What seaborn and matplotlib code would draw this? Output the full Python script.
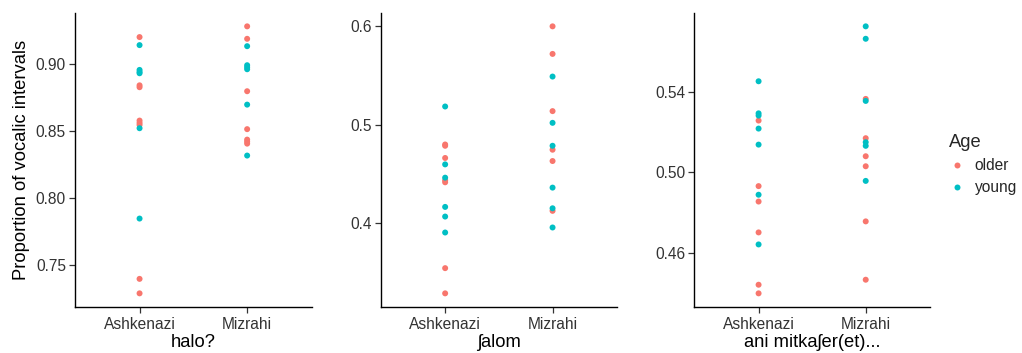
import matplotlib
matplotlib.use("Agg")
import matplotlib.pyplot as plt
import seaborn as sns
import pandas as pd
from matplotlib.ticker import FormatStrFormatter

# ---- data ----
origins = ["Ashkenazi", "Mizrahi"]
ages = ["older", "young"]
phrases = ["halo?", "ʃalom", "ani mitkaʃer(et)..."]

halo_ash_older = [0.920, 0.884, 0.8826, 0.8577, 0.856, 0.8545, 0.7396, 0.7288]
halo_ash_young = [0.914, 0.8955, 0.894, 0.893, 0.852, 0.7846]
halo_miz_older = [0.928, 0.9187, 0.8796, 0.8513, 0.8435, 0.842, 0.8405]
halo_miz_young = [0.9132, 0.899, 0.8975, 0.896, 0.8696, 0.8316]

shalom_ash_older = [0.480, 0.4787, 0.4663, 0.4436, 0.4416, 0.3544, 0.3288]
shalom_ash_young = [0.5186, 0.4598, 0.4463, 0.4166, 0.4068, 0.3906]
shalom_miz_older = [0.600, 0.572, 0.5139, 0.4747, 0.4632, 0.4126]
shalom_miz_young = [0.549, 0.502, 0.4787, 0.4362, 0.4152, 0.3957]

ani_ash_older = [0.5259, 0.4932, 0.4855, 0.4701, 0.4440, 0.4397]
ani_ash_young = [0.5455, 0.5295, 0.5284, 0.5219, 0.5139, 0.4889, 0.4641]
ani_miz_older = [0.5367, 0.5171, 0.5081, 0.5031, 0.4756, 0.4465]
ani_miz_young = [0.5729, 0.5667, 0.5357, 0.5151, 0.5133, 0.4958]

yticks = [[0.75, 0.80, 0.85, 0.90], [0.4, 0.5, 0.6], [0.46, 0.50, 0.54]]
yfmt = ["%.2f", "%.1f", "%.2f"]

groups = {
    "halo?": [halo_ash_older, halo_ash_young, halo_miz_older, halo_miz_young],
    "ʃalom": [shalom_ash_older, shalom_ash_young, shalom_miz_older, shalom_miz_young],
    "ani mitkaʃer(et)...": [ani_ash_older, ani_ash_young, ani_miz_older, ani_miz_young],
}

rows = []
for ph, (ao, ay, mo, my) in groups.items():
    for vals, o, a in [(ao, "Ashkenazi", "older"), (ay, "Ashkenazi", "young"),
                       (mo, "Mizrahi", "older"), (my, "Mizrahi", "young")]:
        for v in vals:
            rows.append({"phrase": ph, "Origin": o, "Age": a, "value": v})
df = pd.DataFrame(rows)

palette = {"older": "#F8766D", "young": "#00BFC4"}

sns.set_style("white")
plt.rcParams["font.family"] = ["Liberation Sans", "DejaVu Sans"]

TICK_FS = 11.2
TITLE_FS = 13.2

fig = plt.figure(figsize=(10.22, 3.53), dpi=100)
W, H = 1022, 353
panels = [(75, 311.7), (380.7, 617), (694.3, 930)]
top, bottom = 13, 306.7

for i, ph in enumerate(phrases):
    l, r = panels[i]
    ax = fig.add_axes([l / W, 1 - bottom / H, (r - l) / W, (bottom - top) / H])
    sub = df[df["phrase"] == ph]
    sns.stripplot(data=sub, x="Origin", y="value", hue="Age", order=origins,
                  hue_order=ages, palette=palette, jitter=False, dodge=False,
                  size=4.3, linewidth=0, ax=ax, legend=(i == 2))
    ax.set_xlim(-0.6, 1.6)
    ax.margins(y=0.05)
    ax.set_yticks(yticks[i])
    ax.yaxis.set_major_formatter(FormatStrFormatter(yfmt[i]))
    for s in ["top", "right"]:
        ax.spines[s].set_visible(False)
    for s in ["left", "bottom"]:
        ax.spines[s].set_color("black")
        ax.spines[s].set_linewidth(1.0)
    ax.tick_params(axis="y", length=4, width=0.9, color="#333333",
                   labelsize=TICK_FS, labelcolor="#333333", left=True, pad=2.5)
    ax.tick_params(axis="x", length=4, width=0.9, color="#333333",
                   labelsize=TICK_FS, labelcolor="#333333", bottom=True, pad=3.5)
    ax.set_xlabel(ph, fontsize=TITLE_FS, color="black", labelpad=1.5)
    if i == 0:
        ax.set_ylabel("Proportion of vocalic intervals", fontsize=TITLE_FS,
                      color="black", labelpad=4)
    else:
        ax.set_ylabel("")
    if i == 2:
        handles, labels = ax.get_legend_handles_labels()
        ax.get_legend().remove()
        leg = fig.legend(handles, labels, title="Age", loc="upper left",
                         bbox_to_anchor=(949 / W, 1 - 134 / H), frameon=False,
                         fontsize=TICK_FS, title_fontsize=TITLE_FS,
                         handlelength=1.0, handletextpad=0.65,
                         labelspacing=0.45, markerscale=1.0, borderaxespad=0,
                         borderpad=0)
        leg._legend_box.align = "left"

fig.savefig("out.png", dpi=100)
